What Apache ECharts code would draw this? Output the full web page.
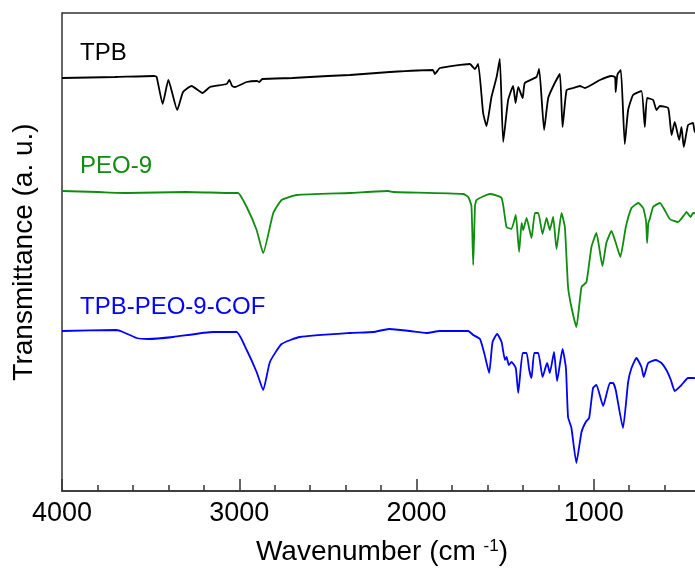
<!DOCTYPE html>
<html>
<head>
<meta charset="utf-8">
<script src="https://cdn.jsdelivr.net/npm/echarts@6/dist/echarts.min.js"></script>
<style>
  html, body { margin: 0; padding: 0; background: #fff; }
  #chart1 { width: 695px; height: 570px; }
</style>
</head>
<body>
<div id="chart1"></div>
<script>
// spectra: [wavenumber, transmittance (a.u., stacked)]
const tpb = [
  [4000, 413], [3700, 414], [3480, 415], [3466, 414], [3432, 387], [3400, 411], [3350, 381],
  [3317, 399], [3269, 405], [3207, 398], [3165, 404], [3071, 407], [3056, 411], [3040, 405],
  [3024, 404], [2958, 409], [2900, 410], [2887, 409], [2870, 412], [2700, 413], [2500, 415],
  [2376, 416], [2150, 419], [1908, 421], [1896, 417], [1868, 423], [1699, 427], [1671, 422],
  [1652, 427], [1624, 378], [1605, 365], [1577, 394], [1548, 414], [1530, 432], [1511, 349],
  [1483, 391], [1455, 405], [1441, 388], [1426, 404], [1401, 393], [1389, 408], [1323, 414],
  [1308, 422], [1280, 361], [1257, 393], [1220, 408], [1191, 417], [1176, 364], [1153, 401],
  [1116, 403], [1078, 405], [1050, 403], [965, 411], [900, 415], [880, 414], [876, 399],
  [868, 415], [862, 418], [847, 421], [825, 347], [806, 381], [778, 396], [731, 400],
  [712, 364], [699, 393], [665, 391], [646, 381], [627, 385], [580, 383], [561, 356],
  [543, 369], [518, 351], [505, 364], [492, 344], [468, 366], [440, 368], [430, 359], [400, 362]
];

const peo9 = [
  [4000, 300], [3800, 299], [3635, 298], [3300, 299], [3035, 298], [3007, 298], [2958, 284],
  [2902, 261], [2865, 238], [2808, 278], [2761, 291], [2676, 296], [2376, 298], [2159, 300],
  [2131, 299], [1737, 297], [1708, 294], [1690, 285], [1680, 226], [1670, 285], [1661, 291],
  [1586, 297], [1520, 293], [1492, 264], [1464, 262], [1440, 276], [1421, 239], [1407, 268],
  [1398, 261], [1379, 273], [1351, 253], [1332, 278], [1313, 278], [1289, 257], [1266, 273],
  [1248, 261], [1229, 274], [1210, 242], [1182, 278], [1163, 264], [1145, 204], [1126, 184],
  [1098, 164], [1069, 204], [1041, 209], [1013, 244], [985, 258], [951, 225], [929, 248],
  [900, 260], [872, 246], [850, 234], [819, 264], [787, 283], [749, 288], [721, 283],
  [705, 270], [699, 248], [692, 268], [684, 272], [665, 284], [627, 288], [571, 272],
  [524, 269], [490, 276], [477, 279], [454, 274], [440, 278], [400, 277]
];

const cof = [
  [4000, 160], [3692, 161], [3656, 159], [3579, 153], [3513, 152], [3372, 154], [3147, 159],
  [3015, 159], [2958, 141], [2902, 119], [2865, 101], [2827, 129], [2761, 147], [2658, 154],
  [2376, 158], [2244, 159], [2154, 162], [2037, 160], [1943, 158], [1868, 160], [1708, 160],
  [1680, 156], [1642, 152], [1618, 138], [1590, 118], [1571, 149], [1545, 157], [1520, 149],
  [1501, 131], [1492, 134], [1479, 126], [1464, 129], [1440, 123], [1426, 98], [1401, 138],
  [1379, 138], [1364, 121], [1351, 113], [1336, 138], [1313, 138], [1289, 114], [1263, 128],
  [1248, 118], [1224, 139], [1207, 110], [1176, 142], [1157, 123], [1145, 74], [1126, 63],
  [1098, 28], [1069, 59], [1045, 69], [1026, 73], [1004, 103], [985, 106], [947, 85],
  [909, 108], [891, 108], [876, 101], [835, 63], [806, 109], [787, 123], [759, 133],
  [731, 124], [718, 114], [693, 128], [650, 131], [618, 128], [590, 121], [565, 111],
  [543, 100], [505, 106], [468, 113], [440, 113], [400, 112]
];

const seriesNames = ['TPB', 'PEO-9', 'TPB-PEO-9-COF'];
const seriesColors = ['#000000', '#108c10', '#0000ff'];

const font = 'Liberation Sans, Arial, sans-serif';

let chart1;

const getOptionChart1 = () => {
    const data = [tpb, peo9, cof];
    return {
        animation: false,
        backgroundColor: '#fff',
        grid: {
            left: 62, top: 13, width: 709, height: 478,
            outerBoundsMode: 'none', containLabel: false,
            show: true, borderColor: '#333', borderWidth: 1.5
        },
        xAxis: {
            type: 'value', inverse: true, min: 0, max: 4000, interval: 1000,
            axisLine: { lineStyle: { color: '#333', width: 1.5 } },
            axisTick: { inside: true, length: 12, lineStyle: { color: '#333', width: 1.5 } },
            minorTick: { show: true, splitNumber: 5, length: 6, lineStyle: { color: '#333', width: 1.5 } },
            axisLabel: { color: '#000', fontSize: 27, fontFamily: font, margin: 9, formatter: v => String(v) },
            splitLine: { show: false },
            name: 'Wavenumber (cm {sup|-1})',
            nameLocation: 'middle',
            nameGap: 47,
            nameTextStyle: {
                color: '#000', fontSize: 28, fontFamily: font,
                padding: [0, 69, 0, 0],
                rich: { sup: { fontSize: 17, fontFamily: font, color: '#000', verticalAlign: 'top', padding: [0, 0, 12, 0] } }
            }
        },
        yAxis: {
            type: 'value', min: 0, max: 478,
            axisLine: { show: true, lineStyle: { color: '#333', width: 1.5 } },
            axisTick: { show: false },
            axisLabel: { show: false },
            splitLine: { show: false },
            name: 'Transmittance (a. u.)',
            nameLocation: 'middle',
            nameGap: 24,
            nameTextStyle: { color: '#000', fontSize: 28, fontFamily: font }
        },
        graphic: [
            { type: 'text', left: 80, top: 41, style: { text: seriesNames[0], fill: seriesColors[0], font: '24px ' + font } },
            { type: 'text', left: 80, top: 154, style: { text: seriesNames[1], fill: seriesColors[1], font: '24px ' + font } },
            { type: 'text', left: 80, top: 295, style: { text: seriesNames[2], fill: seriesColors[2], font: '24px ' + font } }
        ],
        series: data.map((d, i) => ({
            name: seriesNames[i],
            type: 'line',
            data: d,
            showSymbol: false,
            smooth: 0.15,
            lineStyle: { color: seriesColors[i], width: 1.8 },
            itemStyle: { color: seriesColors[i] }
        }))
    };
}

const initCharts = () => {
    chart1 = echarts.init(document.getElementById("chart1"));
    chart1.setOption(getOptionChart1());
}
document.addEventListener('DOMContentLoaded', function () {
    initCharts();
});

window.addEventListener('resize', function () {
    chart1.resize();
})
</script>
</body>
</html>
